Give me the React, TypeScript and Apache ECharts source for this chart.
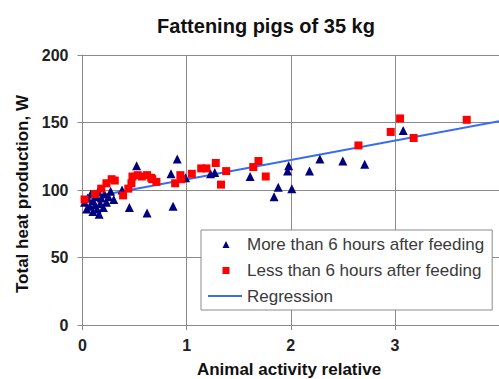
import React, { useEffect, useRef } from "react";
import * as echarts from "echarts";

const titleText = "Fattening pigs of 35 kg";
const xAxisName = "Animal activity relative";
const yAxisName = "Total heat production, W";
const seriesNames = [
  "More than 6 hours after feeding",
  "Less than 6 hours after feeding",
  "Regression",
];

// More than 6 hours after feeding: [activity, W]
const moreThan6h: number[][] = [
  [0.02, 91], [0.04, 86], [0.05, 94], [0.07, 88], [0.08, 97], [0.1, 84], [0.1, 92],
  [0.12, 89], [0.13, 95], [0.14, 86], [0.15, 99], [0.16, 82], [0.17, 90], [0.18, 94],
  [0.2, 87], [0.21, 97], [0.23, 91], [0.25, 95], [0.27, 99], [0.3, 93],
  [0.38, 100], [0.45, 87], [0.52, 118], [0.62, 83], [0.85, 112], [0.87, 88],
  [0.91, 123], [0.99, 109], [1.23, 112], [1.27, 113], [1.61, 110], [1.84, 95],
  [1.88, 102], [1.97, 114], [1.98, 118], [2.01, 101], [2.18, 114], [2.28, 123],
  [2.5, 121.5], [2.71, 119], [3.08, 144],
];

// Less than 6 hours after feeding: [activity, W]
const lessThan6h: number[][] = [
  [0.02, 93], [0.12, 97], [0.18, 101], [0.23, 105], [0.28, 108], [0.31, 107],
  [0.39, 96], [0.44, 101], [0.47, 105], [0.48, 110], [0.53, 111], [0.57, 110],
  [0.62, 111], [0.66, 109], [0.67, 108], [0.71, 106], [0.89, 105], [0.94, 111],
  [0.95, 108], [1.05, 112], [1.14, 116], [1.19, 116], [1.28, 120], [1.33, 104],
  [1.38, 114], [1.64, 117], [1.69, 121.5], [1.76, 110], [2.65, 133], [2.96, 143],
  [3.05, 153], [3.18, 138.5], [3.69, 152],
];

// Regression line end points
const regression: number[][] = [
  [0, 93.5],
  [4, 151],
];

const yTicks = { min: 0, max: 200, interval: 50 };
const xTicks = { min: 0, max: 4, interval: 1 };

const FONT = "'Liberation Sans', Arial, sans-serif";
const GRID = "#8a8a8a";

// legend icons: invisible move-to points keep the 34x8 box, so the mark keeps its size
const iconTriangle = "path://M0,0 M34,8 M14.5,8 L18,1 L21.5,8 Z";
const iconSquare = "path://M0,0 M34,8 M14.5,1 L21.5,1 L21.5,8 L14.5,8 Z";
const iconLine = "path://M0,0 M34,8 M0,3 L34,3 L34,5 L0,5 Z";

export default function App() {
  const ref = useRef<HTMLDivElement>(null);

  useEffect(() => {
    if (!ref.current) return;
    const chart = echarts.init(ref.current, undefined, { renderer: "svg" });
    chart.setOption({
      animation: false,
      backgroundColor: "#ffffff",
      textStyle: { fontFamily: FONT },
      grid: { left: 82.5, top: 55, height: 270, width: 423, containLabel: false },
      graphic: [
        {
          type: "text",
          x: 266,
          y: 26,
          style: {
            text: titleText,
            font: `bold 20px ${FONT}`,
            fill: "#111",
            textAlign: "center",
            textVerticalAlign: "middle",
          },
        },
        {
          type: "text",
          x: 289,
          y: 369,
          style: {
            text: xAxisName,
            font: `bold 17px ${FONT}`,
            fill: "#111",
            textAlign: "center",
            textVerticalAlign: "middle",
          },
        },
        {
          type: "text",
          x: 22,
          y: 194,
          rotation: Math.PI / 2,
          style: {
            text: yAxisName,
            font: `bold 17px ${FONT}`,
            fill: "#111",
            textAlign: "center",
            textVerticalAlign: "middle",
          },
        },
      ],
      legend: {
        orient: "vertical",
        left: 201,
        top: 230,
        padding: [4, 8, 4, 7],
        itemGap: 6,
        itemWidth: 34,
        itemHeight: 8,
        itemTextGap: 2,
        backgroundColor: "#ffffff",
        borderColor: "#8a8a8a",
        borderWidth: 1,
        data: [
          { name: seriesNames[0], icon: iconTriangle },
          { name: seriesNames[1], icon: iconSquare },
          { name: seriesNames[2], icon: iconLine },
        ],
        textStyle: { fontSize: 17, color: "#3a3a3a", lineHeight: 20, fontFamily: FONT },
      },
      xAxis: {
        type: "value",
        min: xTicks.min,
        max: xTicks.max,
        interval: xTicks.interval,
        axisLine: { show: true, lineStyle: { color: GRID, width: 1 } },
        axisTick: { show: true, inside: false, length: 5, lineStyle: { color: GRID } },
        splitLine: { show: true, lineStyle: { color: GRID, width: 1 } },
        axisLabel: {
          show: true,
          margin: 12,
          fontSize: 16,
          fontWeight: "bold",
          color: "#222",
          showMaxLabel: false,
          fontFamily: FONT,
        },
      },
      yAxis: {
        type: "value",
        min: yTicks.min,
        max: yTicks.max,
        interval: yTicks.interval,
        axisLine: { show: true, lineStyle: { color: GRID, width: 1 } },
        axisTick: { show: true, inside: false, length: 5, lineStyle: { color: GRID } },
        splitLine: { show: true, lineStyle: { color: GRID, width: 1 } },
        axisLabel: {
          show: true,
          margin: 14,
          fontSize: 16,
          fontWeight: "bold",
          color: "#222",
          fontFamily: FONT,
        },
      },
      series: [
        {
          name: seriesNames[2],
          type: "line",
          data: regression,
          showSymbol: false,
          symbol: "none",
          lineStyle: { color: "#3a6cf2", width: 2 },
          itemStyle: { color: "#3a6cf2" },
          z: 2,
        },
        {
          name: seriesNames[0],
          type: "scatter",
          data: moreThan6h,
          symbol: "triangle",
          symbolSize: 9,
          itemStyle: { color: "#00007f", opacity: 1 },
          z: 3,
        },
        {
          name: seriesNames[1],
          type: "scatter",
          data: lessThan6h,
          symbol: "rect",
          symbolSize: 8,
          itemStyle: { color: "#ff0000", opacity: 1 },
          z: 4,
        },
      ],
    });
    return () => chart.dispose();
  }, []);

  return (
    <div
      ref={ref}
      style={{ position: "fixed", left: 0, top: 0, width: 499, height: 379, background: "#fff" }}
    />
  );
}
